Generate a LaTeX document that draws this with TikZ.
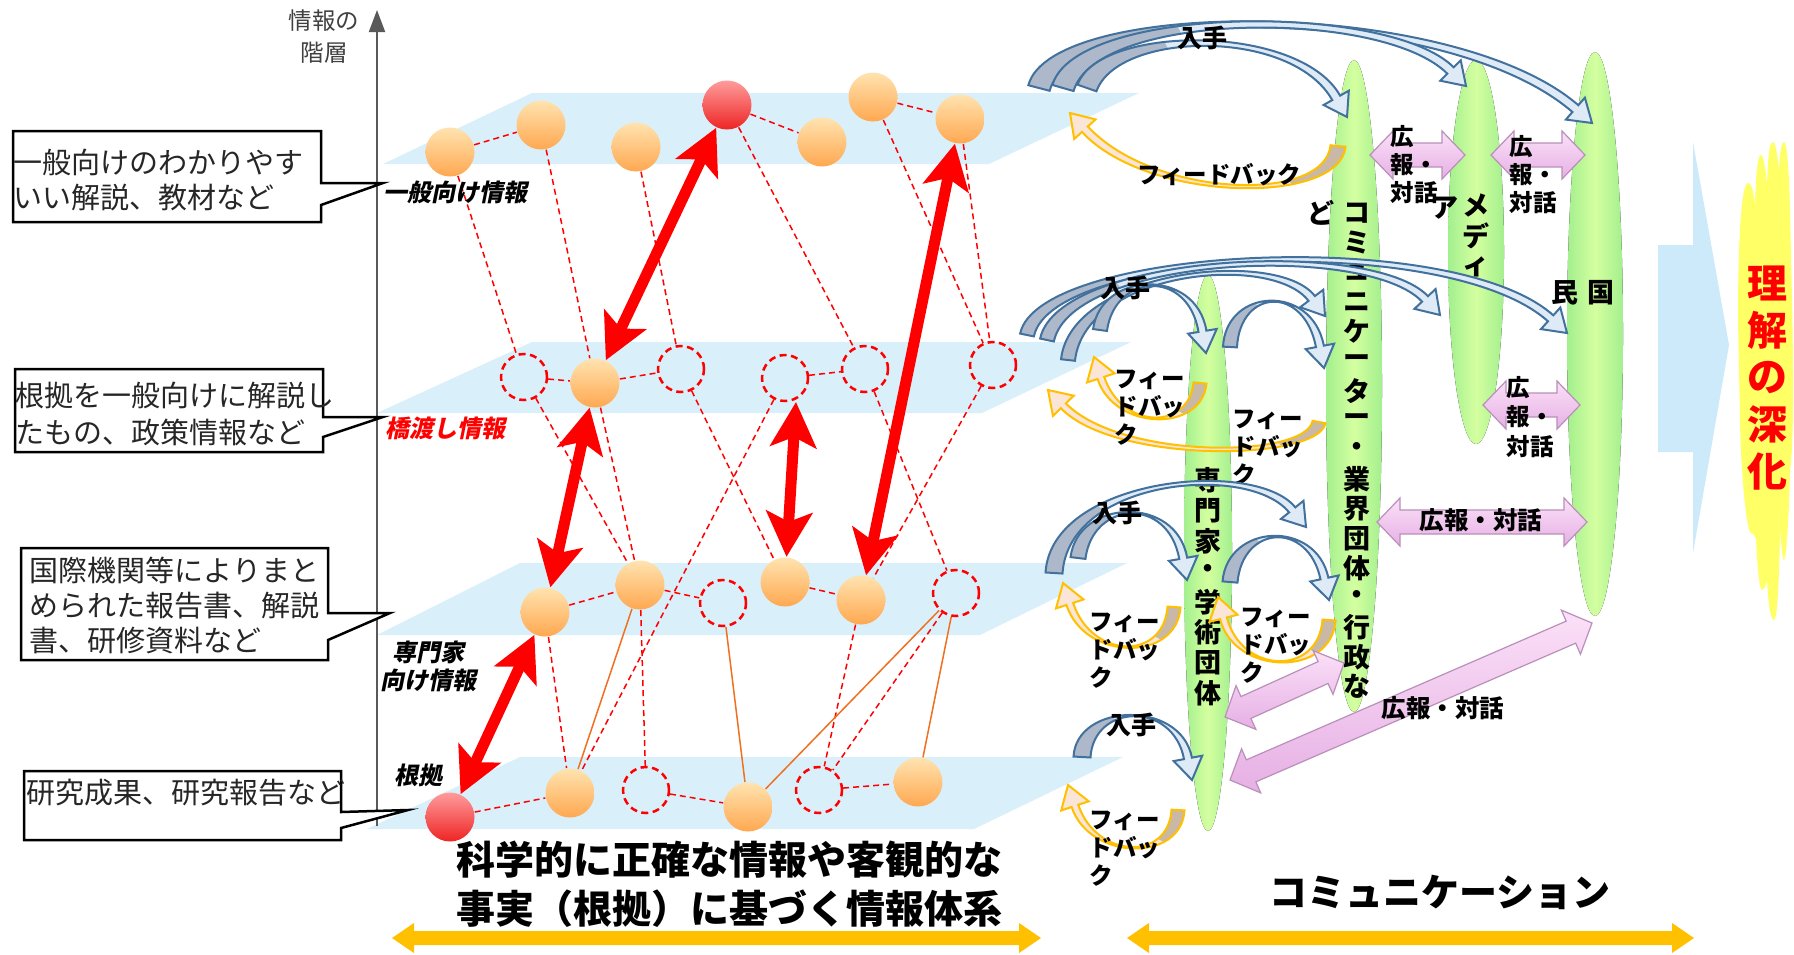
\documentclass[tikz,border=0pt]{standalone}
\usepackage{fontspec}
\setmainfont{Noto Sans CJK JP}
\newfontfamily\jpsl[FakeSlant=0.2]{Noto Sans CJK JP}
\usetikzlibrary{calc,arrows.meta}
\definecolor{planec}{HTML}{D9F0FB}
\definecolor{orL}{HTML}{FFE3B0}
\definecolor{orD}{HTML}{FFA850}
\definecolor{rdL}{HTML}{FF9C9C}
\definecolor{rdD}{HTML}{EE2424}
\definecolor{dred}{HTML}{FF0000}
\definecolor{olinec}{HTML}{F07020}
\definecolor{bB}{HTML}{41719C}
\definecolor{bD}{HTML}{ADB9CA}
\definecolor{bL}{HTML}{DEEBF7}
\definecolor{yB}{HTML}{FFC000}
\definecolor{yD}{HTML}{C9B8A6}
\definecolor{yL}{HTML}{FBE5D6}
\definecolor{eG}{HTML}{A3EF8E}
\definecolor{eY}{HTML}{D4FFA0}
\definecolor{pL}{HTML}{FBE0F8}
\definecolor{pD}{HTML}{E6B0E4}
\definecolor{pB}{HTML}{B990B9}
\definecolor{bigb}{HTML}{CDEAFA}
\definecolor{flamec}{HTML}{FFFF66}
\definecolor{goldc}{HTML}{FFC000}
\definecolor{axisc}{HTML}{595959}
\newcommand\fsz[2]{\fontsize{#1mm}{#2mm}\selectfont}
% tapered curved block arrow: scheme, S, C1, C2, E, base half width, end half width, dark radius
\newcommand\ribbon[8]{%
 \coordinate (rS) at (#2); \coordinate (rC1) at (#3); \coordinate (rC2) at (#4); \coordinate (rE) at (#5);
 \coordinate (rEb) at ($(rE)!2.2mm!(rC2)$);
 \coordinate (rSl) at ($(rS)!#6!90:(rC1)$);
 \coordinate (rSr) at ($(rS)!#6!-90:(rC1)$);
 \coordinate (rC1l) at ($(rC1)!#6!-90:(rS)$);
 \coordinate (rC1r) at ($(rC1)!#6!90:(rS)$);
 \coordinate (rC2l) at ($(rC2)!#7!90:(rEb)$);
 \coordinate (rC2r) at ($(rC2)!#7!-90:(rEb)$);
 \coordinate (rEbl) at ($(rEb)!#7!-90:(rC2)$);
 \coordinate (rEbr) at ($(rEb)!#7!90:(rC2)$);
 \coordinate (rHl) at ($(rEb)!1.45mm!-90:(rC2)$);
 \coordinate (rHr) at ($(rEb)!1.45mm!90:(rC2)$);
 \fill[#1L] (rSl) .. controls (rC1l) and (rC2l) .. (rEbl) -- (rHl) -- (rE) -- (rHr) -- (rEbr) .. controls (rC2r) and (rC1r) .. (rSr) -- cycle;
 \begin{scope}
  \clip (rSl) .. controls (rC1l) and (rC2l) .. (rEbl) -- (rHl) -- (rE) -- (rHr) -- (rEbr) .. controls (rC2r) and (rC1r) .. (rSr) -- cycle;
  \fill[#1D] (rS) circle (#8);
 \end{scope}
 \draw[#1B, line width=0.2mm, line join=miter] (rSl) .. controls (rC1l) and (rC2l) .. (rEbl) -- (rHl) -- (rE) -- (rHr) -- (rEbr) .. controls (rC2r) and (rC1r) .. (rSr) -- cycle;
}
\newcommand\pinkarr[2]{%
 \coordinate (pa) at ($(#1)!2.3mm!(#2)$);
 \coordinate (pb) at ($(#2)!2.3mm!(#1)$);
 \path[top color=pL, bottom color=pD, draw=pB, line width=0.12mm]
 (#1) -- ($(pa)!2.4mm!90:(#2)$) -- ($(pa)!1.2mm!90:(#2)$) -- ($(pb)!1.2mm!-90:(#1)$) -- ($(pb)!2.4mm!-90:(#1)$) -- (#2)
 -- ($(pb)!2.4mm!90:(#1)$) -- ($(pb)!1.2mm!90:(#1)$) -- ($(pa)!1.2mm!-90:(#2)$) -- ($(pa)!2.4mm!-90:(#2)$) -- cycle;
}
\tikzset{
 osph/.style={circle, minimum size=4.9mm, inner sep=0pt, top color=orL, bottom color=orD},
 rsph/.style={circle, minimum size=4.9mm, inner sep=0pt, top color=rdL, bottom color=rdD},
 dcirc/.style={circle, minimum size=4.6mm, inner sep=0pt, draw=dred, line width=0.25mm, dash pattern=on 0.7mm off 0.45mm},
 dline/.style={draw=dred, line width=0.15mm, dash pattern=on 0.6mm off 0.4mm},
 oline/.style={draw=olinec, line width=0.15mm},
 redarr/.style={draw=dred, line width=1.1mm, >={Stealth[length=4.5mm,width=4.6mm,inset=1mm]}, <->},
 callout/.style={draw=black, line width=0.25mm, fill=white},
 calltext/.style={anchor=west, inner sep=0pt, align=left, font=\fsz{2.9}{3.5}, text=black!85},
 lbl/.style={inner sep=0pt, font=\jpsl\bfseries\fsz{2.4}{2.8}},
 rtxt/.style={inner sep=0pt, align=left, font=\bfseries\fsz{2.35}{2.8}},
 vtxt/.style={inner sep=0pt, font=\bfseries\fsz{2.7}{3.0}},
 plane/.style={fill=planec},
 ell/.style={left color=eG, right color=eG, middle color=eY},
}
\begin{document}
\begin{tikzpicture}[x=0.1mm, y=-0.1mm]
\useasboundingbox (0,0) rectangle (1794,954);
\fill[white] (0,0) rectangle (1794,954);
% planes
\fill[plane] (383,164) -- (532,93) -- (1139,93) -- (989,164) -- cycle;
\fill[plane] (377,413) -- (532,342) -- (1131,342) -- (982,413) -- cycle;
\fill[plane] (377,635) -- (520,563) -- (1127,563) -- (980,635) -- cycle;
\fill[plane] (367,829) -- (520,757) -- (1123,757) -- (974,829) -- cycle;
% axis
\coordinate (axb) at (377,826);
\coordinate (axt) at (377,10);
\draw[axisc, line width=0.2mm, -{Triangle[length=2.2mm,width=1.6mm]}] (axb) -- (axt);
\node[inner sep=0pt, align=center, font=\fsz{2.35}{3.2}, text=black!75] (axl) at (324,37) {情報の\\階層};
% nodes
\node[osph] (A1) at (450,152) {};
\node[osph] (A2) at (541,125) {};
\node[osph] (A3) at (636,147) {};
\node[rsph] (A4) at (727,105) {};
\node[osph] (A5) at (822,142) {};
\node[osph] (A6) at (873,97) {};
\node[osph] (A7) at (960,119) {};
\node[dcirc] (B1) at (524,377) {};
\node[osph] (B2) at (595,383) {};
\node[dcirc] (B3) at (681,369) {};
\node[dcirc] (B4) at (785,378) {};
\node[dcirc] (B5) at (865,369) {};
\node[dcirc] (B6) at (993,365) {};
\node[osph] (C1) at (545,612) {};
\node[osph] (C2) at (640,585) {};
\node[dcirc] (C3) at (723,603) {};
\node[osph] (C4) at (785,582) {};
\node[osph] (C5) at (861,600) {};
\node[dcirc] (C6) at (956,593) {};
\node[rsph] (D1) at (450,817) {};
\node[osph] (D2) at (570,793) {};
\node[dcirc] (D3) at (646,790) {};
\node[osph] (D4) at (748,807) {};
\node[dcirc] (D5) at (819,790) {};
\node[osph] (D6) at (918,782) {};
% dashed links
\draw[dline] (A1) -- (A2);
\draw[dline] (A4) -- (A5);
\draw[dline] (A6) -- (A7);
\draw[dline] (A1) -- (B1);
\draw[dline] (A2) -- (B2);
\draw[dline] (A3) -- (B3);
\draw[dline] (A4) -- (B5);
\draw[dline] (A6) -- (B6);
\draw[dline] (A7) -- (B6);
\draw[dline] (B1) -- (B2);
\draw[dline] (B2) -- (B3);
\draw[dline] (B4) -- (B5);
\draw[dline] (B1) -- (C2);
\draw[dline] (B2) -- (C2);
\draw[dline] (B3) -- (C4);
\draw[dline] (B4) -- (D2);
\draw[dline] (B5) -- (C6);
\draw[dline] (B6) -- (C5);
\draw[dline] (C1) -- (C2);
\draw[dline] (C2) -- (C3);
\draw[dline] (C4) -- (C5);
\draw[dline] (C1) -- (D2);
\draw[dline] (C2) -- (D3);
\draw[dline] (C5) -- (D5);
\draw[dline] (C6) -- (D5);
\draw[dline] (D1) -- (D2);
\draw[dline] (D3) -- (D4);
\draw[dline] (D5) -- (D6);
\draw[oline] (C2) -- (D2);
\draw[oline] (C3) -- (D4);
\draw[oline] (C6) -- (D4);
\draw[oline] (C6) -- (D6);
% red arrows
\coordinate (r3t) at (796,402);
\draw[redarr] (B2) -- (A4);
\draw[redarr] (C1) -- (B2);
\draw[redarr] (C4) -- (r3t);
\draw[redarr] (C5) -- (A7);
\draw[redarr] (D1) -- (C1);
% layer labels
\node[lbl, anchor=west] (l1) at (383,192) {一般向け情報};
\node[lbl, anchor=west, text=dred] (l2) at (385,428) {橋渡し情報};
\node[lbl, align=center] (l3) at (428,666) {専門家\\向け情報};
\node[lbl, anchor=west] (l4) at (394,775) {根拠};
% callouts
\draw[callout] (13,131) -- (321,131) -- (321,183) -- (383,183) -- (321,205) -- (321,222) -- (13,222) -- cycle;
\node[calltext] (t1) at (13,180.5) {一般向けのわかりやす\\いい解説、教材など};
\draw[callout] (15,369) -- (323,369) -- (323,417) -- (383,417) -- (323,437) -- (323,452) -- (15,452) -- cycle;
\node[calltext, font=\fsz{2.9}{3.7}] (t2) at (15,413.5) {根拠を一般向けに解説し\\たもの、政策情報など};
\draw[callout] (21,548) -- (328,548) -- (328,613) -- (390,613) -- (328,640) -- (328,660) -- (21,660) -- cycle;
\node[calltext] (t3) at (29,605) {国際機関等によりまと\\められた報告書、解説\\書、研修資料など};
\draw[callout] (24,771) -- (341,771) -- (341,812) -- (408,810) -- (341,828) -- (341,840) -- (24,840) -- cycle;
\node[calltext] (t4) at (26,793) {研究成果、研究報告など};
% bottom texts
\node[inner sep=0pt, align=center, font=\bfseries\fsz{3.9}{4.9}] (bt1) at (729,884) {科学的に正確な情報や客観的な\\事実（根拠）に基づく情報体系};
\node[inner sep=0pt, font=\bfseries\fsz{3.8}{4.5}] (bt2) at (1440,892) {コミュニケーション};
\fill[goldc] (392,938) -- (414,923) -- (414,931) -- (1019,931) -- (1019,923) -- (1041,938) -- (1019,953) -- (1019,945) -- (414,945) -- (414,953) -- cycle;
\fill[goldc] (1127,938) -- (1149,923) -- (1149,931) -- (1672,931) -- (1672,923) -- (1694,938) -- (1672,953) -- (1672,945) -- (1149,945) -- (1149,953) -- cycle;
% ellipses
\fill[ell] (1354,386) ellipse [x radius=2.8mm, y radius=32.6mm];
\fill[ell] (1476,252) ellipse [x radius=2.8mm, y radius=19.2mm];
\fill[ell] (1595,334) ellipse [x radius=2.8mm, y radius=28.2mm];
\fill[ell] (1208,553) ellipse [x radius=2.4mm, y radius=27.8mm];
\foreach \ch [count=\i] in {コ,ミ,ュ,ニ,ケ,ー,タ,ー,・,業,界,団,体,・,行,政,な}
  \node[vtxt] (e1t\i) at (1357,{213+29.6*(\i-1)}) {\ch};
\node[vtxt] (e1d) at (1321,213) {ど};
\foreach \ch [count=\i] in {メ,デ,ィ}
  \node[vtxt] (e2t\i) at (1476,{205+31*(\i-1)}) {\ch};
\node[vtxt] (e2a) at (1445,208) {ア};
\node[vtxt] (e3a) at (1601,293) {国};
\node[vtxt] (e3b) at (1565,293) {民};
\foreach \ch [count=\i] in {専,門,家,・,学,術,団,体}
  \node[vtxt] (e4t\i) at (1208,{480+30.5*(\i-1)}) {\ch};
% big blue arrow and flame
\fill[bigb] (1658,245) -- (1693,245) -- (1693,142) -- (1729,345) -- (1693,553) -- (1693,452) -- (1658,452) -- cycle;
\fill[flamec] (1738,320) .. controls (1738,230) and (1742,183) .. (1748,183)
 .. controls (1753,183) and (1754,200) .. (1755,205)
 .. controls (1756,170) and (1758,155) .. (1761,155)
 .. controls (1764,155) and (1766,175) .. (1767,185)
 .. controls (1768,150) and (1770,142) .. (1773,142)
 .. controls (1776,142) and (1778,160) .. (1779,170)
 .. controls (1780,148) and (1782,142) .. (1784,142)
 .. controls (1787,142) and (1789,170) .. (1790,210)
 -- (1792,300) .. controls (1794,400) and (1793,450) .. (1790,470)
 .. controls (1789,520) and (1786,560) .. (1784,560)
 .. controls (1782,560) and (1781,540) .. (1780,530)
 .. controls (1779,590) and (1777,620) .. (1774,620)
 .. controls (1770,620) and (1768,600) .. (1767,580)
 .. controls (1766,585) and (1764,590) .. (1762,590)
 .. controls (1759,590) and (1757,560) .. (1756,540)
 .. controls (1755,535) and (1753,533) .. (1751,533)
 .. controls (1747,533) and (1741,480) .. (1740,420) -- cycle;
\foreach \ch [count=\i] in {理,解,の,深,化}
  \node[inner sep=0pt, text=dred, font=\bfseries\fsz{4.0}{4.5}] (fl\i) at (1767,{283+47*(\i-1)}) {\ch};
% layer 1 arrows
\ribbon{b}{1039,88}{1062,0}{1450,0}{1592,123}{1.1mm}{0.45mm}{15mm}
\ribbon{b}{1063,88}{1086,8}{1385,5}{1466,86}{1.1mm}{0.45mm}{13mm}
\ribbon{b}{1087,88}{1108,28}{1295,25}{1347,117}{1.0mm}{0.45mm}{9mm}
\ribbon{y}{1338,146}{1332,205}{1150,200}{1070,113}{0.75mm}{0.4mm}{6mm}
\node[rtxt, font=\bfseries\fsz{2.5}{2.8}] (in1) at (1202,38) {入手};
\node[rtxt] (fb1) at (1219,175) {フィードバック};
% layer 2 arrows
\ribbon{b}{1027,335}{1045,248}{1450,228}{1567,333}{0.7mm}{0.4mm}{10mm}
\ribbon{b}{1047,340}{1065,255}{1370,240}{1440,315}{0.7mm}{0.4mm}{9mm}
\ribbon{b}{1068,360}{1078,270}{1275,250}{1325,316}{0.7mm}{0.4mm}{8mm}
\ribbon{b}{1100,330}{1108,272}{1192,268}{1206,353}{0.7mm}{0.4mm}{5mm}
\ribbon{b}{1230,347}{1233,288}{1308,284}{1324,368}{0.7mm}{0.4mm}{5mm}
\ribbon{y}{1200,383}{1195,432}{1118,430}{1094,357}{0.65mm}{0.35mm}{3.5mm}
\ribbon{y}{1319,422}{1312,460}{1118,462}{1048,390}{0.65mm}{0.35mm}{4.5mm}
\node[rtxt, font=\bfseries\fsz{2.5}{2.8}] (in2) at (1125,288) {入手};
\node[rtxt, anchor=west] (fb2a) at (1114,408) {フィー\\ドバッ\\ク};
\node[rtxt, anchor=west] (fb2b) at (1232,448) {フィー\\ドバッ\\ク};
% layer 3 arrows
\ribbon{b}{1054,573}{1060,478}{1252,460}{1306,527}{0.85mm}{0.4mm}{8mm}
\ribbon{b}{1078,558}{1085,500}{1172,495}{1187,580}{0.75mm}{0.4mm}{5mm}
\ribbon{b}{1230,582}{1235,524}{1312,520}{1329,600}{0.75mm}{0.4mm}{5mm}
\ribbon{y}{1174,607}{1170,662}{1088,660}{1063,583}{0.65mm}{0.35mm}{3.5mm}
\ribbon{y}{1329,620}{1325,677}{1238,675}{1218,597}{0.65mm}{0.35mm}{3.5mm}
\node[rtxt, font=\bfseries\fsz{2.5}{2.8}] (in3) at (1117,513) {入手};
\node[rtxt, anchor=west] (fb3a) at (1089,651) {フィー\\ドバッ\\ク};
\node[rtxt, anchor=west] (fb3b) at (1240,646) {フィー\\ドバッ\\ク};
% layer 4 arrows
\ribbon{b}{1082,757}{1085,703}{1177,700}{1192,780}{0.85mm}{0.4mm}{5mm}
\ribbon{y}{1178,810}{1175,862}{1093,860}{1068,785}{0.65mm}{0.35mm}{3.5mm}
\node[rtxt, font=\bfseries\fsz{2.5}{2.8}] (in4) at (1131,725) {入手};
\node[rtxt, anchor=west] (fb4) at (1089,849) {フィー\\ドバッ\\ク};
% pink arrows
\coordinate (p1a) at (1370,155); \coordinate (p1b) at (1465,155);
\coordinate (p2a) at (1491,155); \coordinate (p2b) at (1585,155);
\coordinate (p3a) at (1483,405); \coordinate (p3b) at (1580,405);
\coordinate (p4a) at (1377,522); \coordinate (p4b) at (1587,522);
\coordinate (p5a) at (1225,717); \coordinate (p5b) at (1344,663);
\coordinate (p6a) at (1230,780); \coordinate (p6b) at (1592,623);
\pinkarr{p1a}{p1b}
\pinkarr{p2a}{p2b}
\pinkarr{p3a}{p3b}
\pinkarr{p4a}{p4b}
\pinkarr{p5a}{p5b}
\pinkarr{p6a}{p6b}
\node[rtxt, anchor=west] (pt1) at (1390,165) {広\\報・\\対話};
\node[rtxt, anchor=west] (pt2) at (1509,175) {広\\報・\\対話};
\node[rtxt, anchor=west, font=\bfseries\fsz{2.35}{2.95}] (pt3) at (1506,417) {広\\報・\\対話};
\node[rtxt, font=\bfseries\fsz{2.45}{2.8}] (pt4) at (1481,520) {広報・対話};
\node[rtxt, font=\bfseries\fsz{2.45}{2.8}] (pt6) at (1443,708) {広報・対話};
\end{tikzpicture}
\end{document}
